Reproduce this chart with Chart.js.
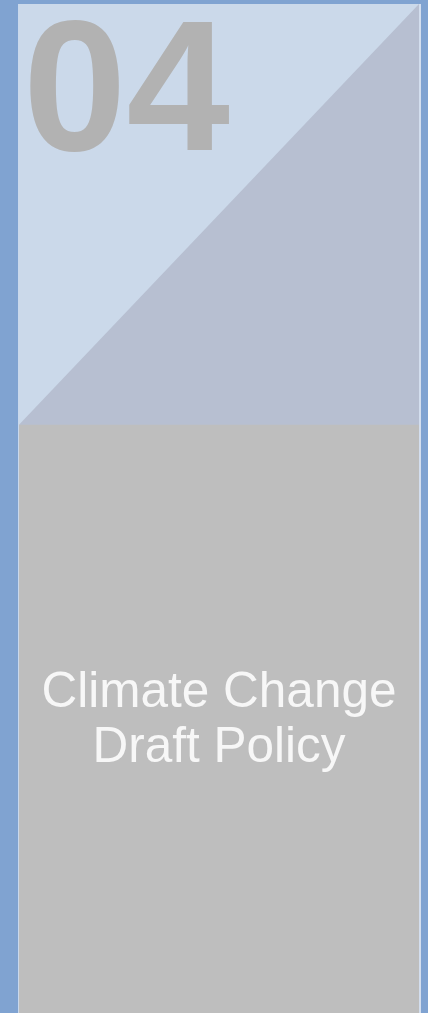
<!DOCTYPE html>
<html>
<head>
<meta charset="utf-8">
<script src="https://cdn.jsdelivr.net/npm/chart.js@4"></script>
<style>
  html, body { margin: 0; padding: 0; background: #80a3d1; }
  #wrap { width: 428px; height: 1013px; position: relative; }
</style>
</head>
<body>
<div id="wrap"><canvas id="chart"></canvas></div>
<script>
// tile sections, heights in % of the panel (bottom = 0, top = 100)
const sections = ["top", "diagonal", "bottom"];
const topLevel = [100, 100];        // light blue block, left -> right
const diagonalLevel = [58.3, 100];  // triangle edge, left -> right
const bottomLevel = [58.3, 58.3];   // grey block, left -> right
const xPos = [0, 100];

const tileNumber = "04";
const titleLines = ["Climate Change", "Draft Policy"];

const colors = { top: "#cbd9ea", diagonal: "#b7bfd1", bottom: "#bebebe" };
const levels = { top: topLevel, diagonal: diagonalLevel, bottom: bottomLevel };

const ctx = document.getElementById("chart").getContext("2d");

const textPlugin = {
  id: "tileText",
  afterDatasetsDraw(chart) {
    const { ctx, chartArea: a } = chart;
    ctx.save();
    // frame lines
    ctx.fillStyle = "#c9d8ec";
    ctx.fillRect(a.left - 1, a.top, 1, a.bottom - a.top);
    ctx.fillStyle = "#d3deee";
    ctx.fillRect(a.right, a.top, 2, a.bottom - a.top);

    // big number
    ctx.fillStyle = "#b2b2b2";
    ctx.font = "bold 186px 'Liberation Sans', Arial, sans-serif";
    ctx.textAlign = "left";
    ctx.textBaseline = "alphabetic";
    const m = ctx.measureText(tileNumber);
    ctx.fillText(tileNumber, 30 + m.actualBoundingBoxLeft, 150);

    ctx.fillStyle = "#f7f7f7";
    ctx.font = "49.5px 'Liberation Sans', Arial, sans-serif";
    ctx.textAlign = "center";
    const cx = (a.left + a.right) / 2;
    titleLines.forEach((t, i) => ctx.fillText(t, cx, 707 + i * 55));
    ctx.restore();
  },
};

new Chart(ctx, {
  type: "line",
  data: {
    datasets: sections.map((s, i) => ({
      label: s,
      data: xPos.map((x, j) => ({ x, y: levels[s][j] })),
      fill: "origin",
      backgroundColor: colors[s],
      borderWidth: 0,
      pointRadius: 0,
      tension: 0,
      order: sections.length - i,
    })),
  },
  options: {
    responsive: true,
    maintainAspectRatio: false,
    animation: false,
    layout: { padding: { left: 19, right: 9, top: 4, bottom: 0 } },
    plugins: { legend: { display: false }, tooltip: { enabled: false } },
    scales: {
      x: { type: "linear", min: 0, max: 100, display: false },
      y: { type: "linear", min: 0, max: 100, display: false },
    },
  },
  plugins: [textPlugin],
});
</script>
</body>
</html>
